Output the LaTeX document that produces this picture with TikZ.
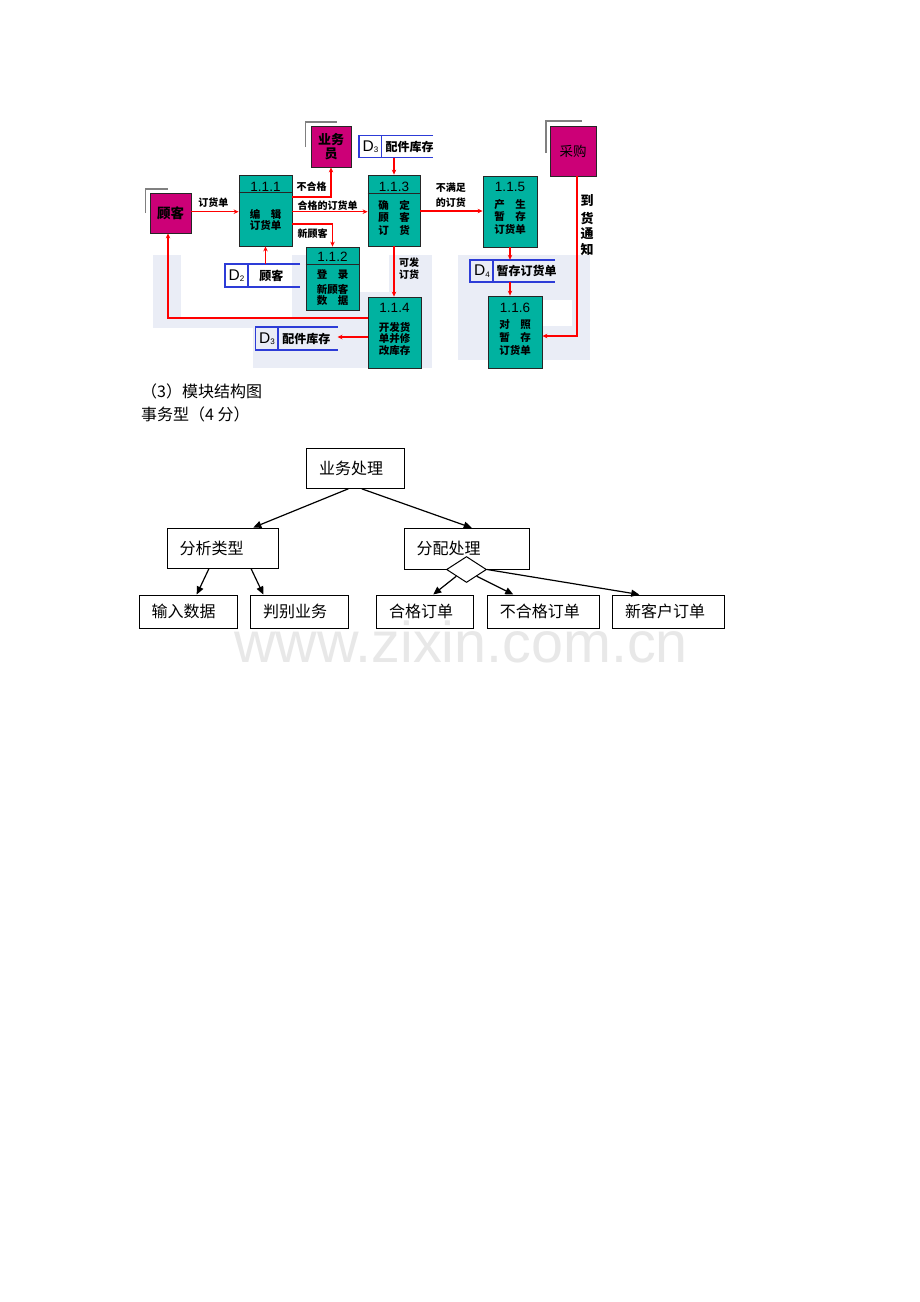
\documentclass[tikz,border=0pt]{standalone}
\usepackage{fontspec}
\setmainfont{Noto Sans CJK SC}
\newfontfamily\arial{Liberation Sans}
\usetikzlibrary{arrows.meta,shapes.geometric}
\definecolor{procfill}{RGB}{0,178,160}
\definecolor{extfill}{RGB}{204,0,119}
\definecolor{storeblue}{RGB}{45,60,215}
\definecolor{bgtex}{RGB}{234,237,246}
\definecolor{flowred}{RGB}{255,0,0}
\definecolor{wmgray}{RGB}{232,232,232}
\newcommand{\myfs}[2]{\fontsize{#1}{#2}\selectfont}
\begin{document}
\begin{tikzpicture}[x=1pt,y=-1pt,
  proc/.style={draw=black!85, fill=procfill, line width=0.8pt, inner sep=0pt},
  ext/.style={draw=black!85, fill=extfill, line width=0.8pt, inner sep=0pt},
  shadowline/.style={draw=black!50, line width=1.2pt},
  storeline/.style={draw=storeblue, line width=1.6pt},
  storenode/.style={inner sep=0pt, draw=none},
  flow/.style={draw=flowred, line width=1.1pt, -{Stealth[length=5pt,width=4.5pt]}},
  lbl/.style={inner sep=0pt, font=\bfseries\myfs{10}{10}},
  ptxt/.style={inner sep=0pt, font=\bfseries\myfs{10.5}{10.5}},
  pnum/.style={inner sep=0pt, font=\arial\myfs{13.5}{13.5}},
  dtxt/.style={inner sep=0pt, font=\arial\myfs{15.5}{15.5}},
  stxt/.style={inner sep=0pt, font=\bfseries\myfs{12}{12}},
  sbox/.style={draw=black, line width=1pt, inner ysep=0pt, inner xsep=12.5pt, align=left, font=\myfs{16}{16}},
  tarrow/.style={draw=black, line width=1.2pt, -{Triangle[length=8pt,width=7pt]}},
  htxt/.style={inner sep=0pt, anchor=west, font=\myfs{16}{16}}
]
\useasboundingbox (0,0) rectangle (920,1302);
\fill[white] (0,0) rectangle (920,1302);

% background texture
\fill[bgtex] (153,255) rectangle (432,328);
\fill[bgtex] (253,328) rectangle (432,368);
\fill[white] (181,255) rectangle (292,318);
\fill[white] (360,255) rectangle (389,292);
\fill[bgtex] (458,255) rectangle (590,360);
\fill[white] (543,300) rectangle (572,326);

% watermark
\node[anchor=base west, font=\arial\myfs{57.5}{57.5}, text=wmgray, inner sep=0pt] (wmk) at (234,662) {www.zixin.com.cn};

% shadow corners
\draw[shadowline] (145.5,213) -- (145.5,189) -- (168,189);
\draw[shadowline] (305.5,147) -- (305.5,122) -- (337,122);
\draw[shadowline] (546,153) -- (546,121) -- (582,121);

% external entities
\node[ext, minimum width=41pt, minimum height=40pt, font=\bfseries\myfs{13.5}{13.5}] (c) at (170.5,213) {顾客};
\node[ext, minimum width=40pt, minimum height=41pt, align=center, font=\bfseries\myfs{13}{14.3}] (ywy) at (331,146.5) {业务\\员};
\node[ext, minimum width=46pt, minimum height=50pt, font=\myfs{13.5}{13.5}] (cg) at (573,151) {采购};

% processes
\node[proc, minimum width=53pt, minimum height=71pt] (p1) at (265.5,210.5) {};
\node[proc, minimum width=52pt, minimum height=71pt] (p3) at (394,210.5) {};
\node[proc, minimum width=54pt, minimum height=71pt] (p5) at (510,211.5) {};
\node[proc, minimum width=53pt, minimum height=63pt] (p2) at (332.5,278.5) {};
\node[proc, minimum width=53pt, minimum height=71pt] (p4) at (394.5,332.5) {};
\node[proc, minimum width=54pt, minimum height=72pt] (p6) at (515,332) {};
\draw[black!85, line width=0.8pt] ([yshift=-18pt]p1.north west) -- ([yshift=-18pt]p1.north east);
\draw[black!85, line width=0.8pt] ([yshift=-18.3pt]p3.north west) -- ([yshift=-18.3pt]p3.north east);
\draw[black!85, line width=0.8pt] ([yshift=-18pt]p2.north west) -- ([yshift=-18pt]p2.north east);

\node[pnum] (n1) at (265.5,186.7) {1.1.1};
\node[pnum] (n3) at (394,186.7) {1.1.3};
\node[pnum] (n5) at (510,186.7) {1.1.5};
\node[pnum] (n2) at (332.5,256.7) {1.1.2};
\node[pnum] (n4) at (394.5,308.3) {1.1.4};
\node[pnum] (n6) at (515,307.7) {1.1.6};

\node[ptxt] (t1a) at (265.5,214) {编\quad 辑};
\node[ptxt] (t1b) at (265.5,225.5) {订货单};
\node[ptxt] (t3a) at (394,205) {确\quad 定};
\node[ptxt] (t3b) at (394,217.5) {顾\quad 客};
\node[ptxt] (t3c) at (394,230.5) {订\quad 货};
\node[ptxt] (t5a) at (510,204.3) {产\quad 生};
\node[ptxt] (t5b) at (510,216.7) {暂\quad 存};
\node[ptxt] (t5c) at (510,229.3) {订货单};
\node[ptxt] (t2a) at (332.5,275) {登\quad 录};
\node[ptxt] (t2b) at (332.5,289) {新顾客};
\node[ptxt] (t2c) at (332.5,301) {数\quad 据};
\node[ptxt] (t4a) at (394.5,327.3) {开发货};
\node[ptxt] (t4b) at (394.5,339) {单并修};
\node[ptxt] (t4c) at (394.5,350.7) {改库存};
\node[ptxt] (t6a) at (515,325) {对\quad 照};
\node[ptxt] (t6b) at (515,337.3) {暂\quad 存};
\node[ptxt] (t6c) at (515,350) {订货单};

% data stores
\node[storenode, minimum width=74pt, minimum height=21.6pt] (d3a) at (396,146.5) {};
\draw[storeline] (d3a.north east) -- (d3a.north west) -- (d3a.south west) -- (d3a.south east);
\draw[storeline] ([xshift=22.7pt]d3a.north west) -- ([xshift=22.7pt]d3a.south west);
\node[dtxt] (d3al) at (370.5,146.5) {D\raisebox{-1.5pt}{\myfs{8}{8}3}};
\node[stxt] (d3at) at (409.5,146.5) {配件库存};

\node[storenode, minimum width=75pt, minimum height=23pt] (d2) at (262.5,275.5) {};
\draw[storeline] (d2.north east) -- (d2.north west) -- (d2.south west) -- (d2.south east);
\draw[storeline] ([xshift=23pt]d2.north west) -- ([xshift=23pt]d2.south west);
\node[dtxt] (d2l) at (236.5,275.5) {D\raisebox{-1.5pt}{\myfs{8}{8}2}};
\node[stxt] (d2t) at (271.3,275.5) {顾客};

\node[storenode, minimum width=81.6pt, minimum height=22.7pt] (d3b) at (296.5,338.6) {};
\draw[storeline] (d3b.north east) -- (d3b.north west) -- (d3b.south west) -- (d3b.south east);
\draw[storeline] ([xshift=22.6pt]d3b.north west) -- ([xshift=22.6pt]d3b.south west);
\node[dtxt] (d3bl) at (267,338.6) {D\raisebox{-1.5pt}{\myfs{8}{8}3}};
\node[stxt] (d3bt) at (306.3,338.6) {配件库存};

\node[storenode, minimum width=85pt, minimum height=22pt] (d4) at (512.5,271) {};
\draw[storeline] (d4.north east) -- (d4.north west) -- (d4.south west) -- (d4.south east);
\draw[storeline] ([xshift=23pt]d4.north west) -- ([xshift=23pt]d4.south west);
\node[dtxt] (d4l) at (482,271) {D\raisebox{-1.5pt}{\myfs{8}{8}4}};
\node[stxt] (d4t) at (526.7,271) {暂存订货单};

% flows
\coordinate (yA) at (0,211.7);
\coordinate (yB) at (0,197);
\coordinate (yC) at (0,224);
\coordinate (yD) at (0,211);
\coordinate (yE) at (168,318);
\coordinate (yF) at (0,337);
\coordinate (cgx) at (577,336);
\draw[flow] (c.east |- yA) -- (p1.west |- yA);
\draw[flow] (p1.east |- yB) -| (ywy.south);
\draw[flow] (p1.east |- yA) -- (p3.west |- yA);
\draw[flow] (p1.east |- yC) -| (p2.north);
\draw[flow] (d3a.south -| p3.north) -- (p3.north);
\draw[flow] (p3.east |- yD) -- (p5.west |- yD);
\draw[flow] (d2.north -| p1.south) -- (p1.south);
\draw[flow] (p3.south) -- (p3.south |- p4.north);
\draw[flow] (p4.west |- yE) -- (yE) -- (yE |- c.south);
\draw[flow] (p4.west |- yF) -- (d3b.east |- yF);
\draw[flow] (p5.south) -- (p5.south |- d4.north);
\draw[flow] (p5.south |- d4.south) -- (p5.south |- p6.north);
\draw[flow] (cg.south -| cgx) -- (cgx) -- (p6.east |- cgx);

% flow labels
\node[lbl] (l1) at (213.3,202.3) {订货单};
\node[lbl] (l2) at (311.7,186.7) {不合格};
\node[lbl] (l3) at (327.5,206) {合格的订货单};
\node[lbl] (l4) at (312.5,233.3) {新顾客};
\node[lbl] (l5a) at (450.8,187.7) {不满足};
\node[lbl] (l5b) at (450.8,202.3) {的订货};
\node[lbl] (l6a) at (409,262.7) {可发};
\node[lbl] (l6b) at (409,275) {订货};
\node[lbl, font=\bfseries\myfs{13}{13}] (l7a) at (587,201) {到};
\node[lbl, font=\bfseries\myfs{13}{13}] (l7b) at (587,218.3) {货};
\node[lbl, font=\bfseries\myfs{13}{13}] (l7c) at (587,234) {通};
\node[lbl, font=\bfseries\myfs{13}{13}] (l7d) at (587,250) {知};

% headings
\node[htxt] (h1) at (141,391) {（3）模块结构图};
\node[htxt] (h2) at (141,414) {事务型（4 分）};

% structure chart
\node[sbox, text width=72.3pt, minimum height=40pt] (A) at (355.35,468.3) {业务处理};
\node[sbox, text width=86pt, minimum height=40pt] (B) at (222.5,548) {分析类型};
\node[sbox, text width=100pt, minimum height=40.7pt] (C) at (466.5,548.65) {分配处理};
\node[sbox, text width=73pt, minimum height=33pt] (D) at (188,611.5) {输入数据};
\node[sbox, text width=72.3pt, minimum height=33pt] (E) at (299.35,611.5) {判别业务};
\node[sbox, text width=71.5pt, minimum height=33pt] (F) at (424.75,611.5) {合格订单};
\node[sbox, text width=87pt, minimum height=33pt] (G) at (543.3,611.5) {不合格订单};
\node[sbox, text width=86.5pt, minimum height=33pt] (H) at (668.25,611.5) {新客户订单};
\node[draw=black, fill=white, diamond, minimum width=40pt, minimum height=26pt, inner sep=0pt, line width=1pt] (dm) at (C.south) {};

\draw[tarrow] ([xshift=-7pt]A.south) -- ([xshift=30.8pt]B.north);
\draw[tarrow] ([xshift=6.35pt]A.south) -- ([xshift=5.2pt]C.north);
\draw[tarrow] ([xshift=-13.5pt]B.south) -- ([xshift=8.7pt]D.north);
\draw[tarrow] ([xshift=28.5pt]B.south) -- ([xshift=-36pt]E.north);
\draw[tarrow] (dm.south west) -- ([xshift=8.5pt]F.north);
\draw[tarrow] (dm.south east) -- ([xshift=-30pt]G.north);
\draw[tarrow] (dm.east) -- ([xshift=-29pt]H.north);
\end{tikzpicture}
\end{document}
